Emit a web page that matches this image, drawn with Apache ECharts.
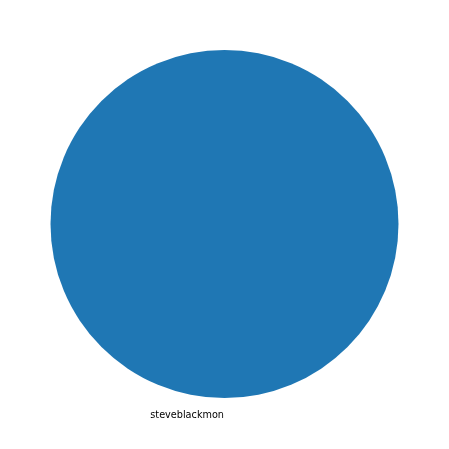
<!DOCTYPE html>
<html>
<head>
<meta charset="utf-8">
<script src="https://cdn.jsdelivr.net/npm/echarts@6/dist/echarts.min.js"></script>
<style>html,body{margin:0;padding:0;background:#fff;}#c{width:449px;height:449px;}</style>
</head>
<body>
<div id="c"></div>
<script>
const names = ["steveblackmon"];
const values = [1];
const colors = ["#1f77b4"];

const chart = echarts.init(document.getElementById('c'), null, {renderer: 'canvas'});
chart.setOption({
  animation: false,
  backgroundColor: '#ffffff',
  color: colors,
  series: [{
    type: 'pie',
    center: [224.5, 224],
    radius: [0, 174],
    startAngle: 90,
    clockwise: false,
    silent: true,
    itemStyle: {borderWidth: 0},
    label: {
      show: true,
      position: 'outside',
      fontFamily: 'DejaVu Sans',
      fontSize: 9.7,
      color: '#000',
      distanceToLabelLine: 0
    },
    labelLine: {show: false, length: 17.5, length2: 0},
    labelLayout: function (p) {
      return {x: 224, y: 415.5, align: 'right', verticalAlign: 'middle'};
    },
    data: names.map((n, i) => ({name: n, value: values[i]}))
  }]
});
</script>
</body>
</html>
